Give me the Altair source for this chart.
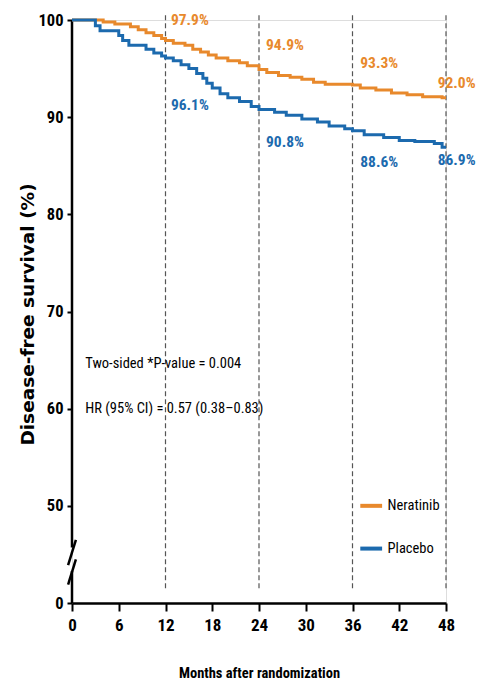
import altair as alt
import pandas as pd

# Kaplan-Meier step data (months, DFS %)
ner_months = [0, 4, 5.5, 7.5, 8.5, 9.5, 10.5, 11.5, 12, 13, 14.5, 15.5, 16.5, 17.5, 18.5, 20, 21.5, 22.5,
              24, 25, 26.5, 28, 29.5, 31, 32.5, 36, 37, 39, 41, 43, 45, 47.5, 48]
ner_values = [100, 99.8, 99.6, 99.3, 99.0, 98.7, 98.4, 98.1, 97.9, 97.6, 97.4, 97.0, 96.7, 96.4, 96.1, 95.8, 95.6, 95.3,
              94.9, 94.6, 94.3, 94.1, 93.9, 93.6, 93.4, 93.3, 93.0, 92.8, 92.5, 92.3, 92.1, 92.0, 92.0]
pla_months = [0, 3, 3.6, 6, 6.5, 7.3, 9.5, 10.5, 11.5, 12, 13, 14, 15, 16, 16.8, 17.3, 18, 19, 20, 21.5, 23,
              24, 26, 27.5, 29.5, 31.5, 33, 35, 36, 37.5, 40, 42, 44, 46.5, 47.5, 48]
pla_values = [100, 99.4, 98.9, 98.4, 97.9, 97.4, 97.0, 96.6, 96.3, 96.1, 95.8, 95.4, 95.0, 94.5, 94.0, 93.5, 93.0, 92.4,
              92.0, 91.6, 91.1, 90.8, 90.5, 90.2, 89.8, 89.5, 89.1, 88.8, 88.6, 88.2, 87.9, 87.6, 87.5, 87.3, 86.9, 86.9]

groups = ["Neratinib", "Placebo"]
colors = ["#E8892C", "#1C6AAE"]

landmark_months = [12, 24, 36, 48]
ner_labels = ["97.9%", "94.9%", "93.3%", "92.0%"]
ner_label_y = [100.0, 97.4, 95.6, 93.5]
pla_labels = ["96.1%", "90.8%", "88.6%", "86.9%"]
pla_label_y = [91.3, 87.4, 85.4, 85.6]
label_x = [12.7, 24.9, 37.0, 51.8]
label_align = ["left", "left", "left", "right"]

x_ticks = [0, 6, 12, 18, 24, 30, 36, 42, 48]
y_ticks = [40, 50, 60, 70, 80, 90, 100]

stats_text = ["Two-sided *P-value = 0.004", "HR (95% CI) = 0.57 (0.38\u20130.83)"]
stats_y = [64.6, 60.0]

FONT = "Roboto Condensed, Roboto"

km = pd.DataFrame(
    [{"month": m, "dfs": v, "group": "Neratinib"} for m, v in zip(ner_months, ner_values)]
    + [{"month": m, "dfs": v, "group": "Placebo"} for m, v in zip(pla_months, pla_values)]
)

xs = alt.Scale(domain=[0, 48], nice=False)
ys = alt.Scale(domain=[40, 100], nice=False, zero=False)

base_x = alt.X("month:Q", scale=xs,
               axis=alt.Axis(values=x_ticks, title="Months after randomization", grid=False,
                             domainWidth=2.5, domainColor="black", tickColor="black", tickWidth=2,
                             tickSize=8, labelFont=FONT, labelFontSize=17, labelFontWeight="bold",
                             labelColor="black", labelPadding=6, labelFlush=False,
                             titleFont=FONT, titleFontSize=14.5, titleFontWeight="bold", titlePadding=33,
                             titleColor="black"))
base_y = alt.Y("dfs:Q", scale=ys,
               axis=alt.Axis(values=y_ticks, title="Disease-free survival (%)", grid=False, domain=False,
                             tickColor="black", tickWidth=2, tickSize=5, labelFlush=False,
                             labelExpr="datum.value == 40 ? '0' : datum.label",
                             labelFont=FONT, labelFontSize=16.5, labelFontWeight="bold", labelColor="black",
                             labelPadding=4,
                             titleFont="DejaVu Sans", titleFontSize=18.5, titleFontWeight="bold",
                             titleColor="black", titleX=-45, titleY=294, titleAngle=-90,
                             titleAlign="center", titleBaseline="middle"))

color_scale = alt.Scale(domain=groups, range=colors)

curves = alt.Chart(km).mark_line(interpolate="step-after", strokeWidth=3).encode(
    x=base_x, y=base_y,
    color=alt.Color("group:N", scale=color_scale, legend=None),
)

# dashed landmark lines
vl = pd.DataFrame({"month": landmark_months, "top": [100.5] * 4, "bottom": [41.3] * 4})
vlines = alt.Chart(vl).mark_rule(strokeDash=[5, 3], color="#555555", strokeWidth=1.2).encode(
    x=alt.X("month:Q", scale=xs), y=alt.Y("top:Q", scale=ys), y2="bottom:Q")

# y axis line with break
ax = pd.DataFrame({"month": [0, 0], "y1": [100, 43.3], "y2": [45.7, 40]})
yaxis = alt.Chart(ax).mark_rule(color="black", strokeWidth=2.5).encode(
    x=alt.X("month:Q", scale=xs), y=alt.Y("y1:Q", scale=ys), y2="y2:Q")
br = pd.DataFrame({"x1": [-0.5, -0.5], "x2": [0.5, 0.5], "y1": [43.9, 41.9], "y2": [46.5, 44.5]})
brk = alt.Chart(br).mark_rule(color="black", strokeWidth=2.5).encode(
    x=alt.X("x1:Q", scale=xs), x2="x2:Q", y=alt.Y("y1:Q", scale=ys), y2="y2:Q")

# percentage labels
lab = pd.DataFrame(
    [{"month": x, "dfs": y, "text": t, "group": "Neratinib", "al": a}
     for x, y, t, a in zip(label_x, ner_label_y, ner_labels, label_align)]
    + [{"month": x, "dfs": y, "text": t, "group": "Placebo", "al": a}
       for x, y, t, a in zip(label_x, pla_label_y, pla_labels, label_align)]
)
lab_common = dict(baseline="middle", font=FONT, fontSize=15.5, fontWeight="bold")
labels_left = alt.Chart(lab).transform_filter("datum.al == 'left'").mark_text(align="left", **lab_common).encode(
    x=alt.X("month:Q", scale=xs), y=alt.Y("dfs:Q", scale=ys), text="text:N",
    color=alt.Color("group:N", scale=color_scale, legend=None))
labels_right = alt.Chart(lab).transform_filter("datum.al == 'right'").mark_text(align="right", **lab_common).encode(
    x=alt.X("month:Q", scale=xs), y=alt.Y("dfs:Q", scale=ys), text="text:N",
    color=alt.Color("group:N", scale=color_scale, legend=None))

st = pd.DataFrame({"month": [1.7, 1.7], "dfs": stats_y, "text": stats_text})
stats = alt.Chart(st).mark_text(align="left", baseline="middle", font=FONT, fontSize=14.5,
                                color="black").encode(
    x=alt.X("month:Q", scale=xs), y=alt.Y("dfs:Q", scale=ys), text="text:N")

# manual legend
lg = pd.DataFrame({"x1": [37.0, 37.0], "x2": [39.8, 39.8], "tx": [40.5, 40.5], "dfs": [50.0, 45.6],
                   "group": groups})
leg_lines = alt.Chart(lg).mark_rule(strokeWidth=4).encode(
    x=alt.X("x1:Q", scale=xs), x2="x2:Q", y=alt.Y("dfs:Q", scale=ys),
    color=alt.Color("group:N", scale=color_scale, legend=None))
leg_text = alt.Chart(lg).mark_text(align="left", baseline="middle", font=FONT, fontSize=14.5,
                                   color="black").encode(
    x=alt.X("tx:Q", scale=xs), y=alt.Y("dfs:Q", scale=ys), text="group:N")

chart = alt.layer(vlines, yaxis, brk, curves, labels_left, labels_right, stats, leg_lines, leg_text).properties(
    width=374, height=583,
    autosize=alt.AutoSizeParams(type="none"),
    padding={"left": 64, "top": 12, "right": 31, "bottom": 79},
).configure_view(stroke=None).configure(background="white")

chart.save("out.html", embed_options={"renderer": "svg", "actions": False})
